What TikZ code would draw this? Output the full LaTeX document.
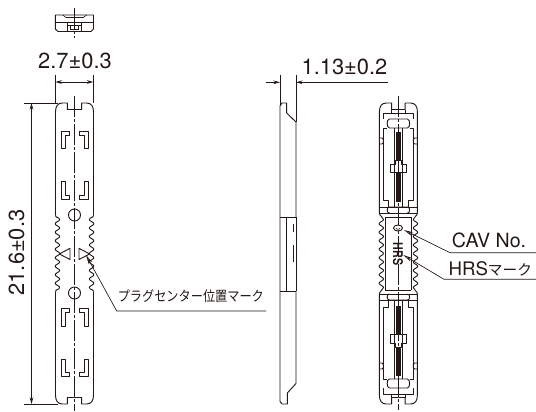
\documentclass[tikz,border=0pt]{standalone}
\usepackage{fontspec}
\setmainfont{TeX Gyre Heros}
\newfontfamily\jpfont{Noto Sans CJK JP}
\newfontfamily\jpnarrow[FakeStretch=0.87]{Noto Sans CJK JP}
\usetikzlibrary{arrows.meta, positioning, calc}
\definecolor{colour_ink}{HTML}{231815}

% Wavy flank and outer shoulder, shared by both front views (one quarter)
\newcommand{\flankquarter}{%
   \draw[part] (-19,-38) .. controls (-19,-35.5) and (-15,-36.5) .. (-14.9,-34)
      -- plot[domain=-34:0, samples=65] ({-17.1+2.2*cos(42.35*\x)}, \x);
   \draw[part] (-19,-38) -- (-19,-141.5) .. controls (-19,-147) and (-17,-150.5) .. (-12,-150.5)
      -- (-7.2,-150.5) -- (-7.2,-144) -- (0,-144);
}

\begin{document}
\begin{tikzpicture}
   [
      x=0.75pt, y=-0.75pt,
      colour_ink, text=colour_ink,
      part/.style={line width=0.7pt, line join=round},
      thin part/.style={line width=0.45pt},
      centre line/.style={line width=0.55pt, dash pattern=on 16pt off 1.5pt on 2pt off 1.5pt},
      dim line/.style={line width=0.5pt},
      dim tip/.style={{Stealth[open, length=5pt, width=2.8pt]}-{Stealth[open, length=5pt, width=2.8pt]}},
      lead tip/.style={{Stealth[open, length=7pt, width=3pt]}-},
      dim label/.style={font=\fontsize{16.4}{18}\selectfont, inner sep=0pt},
      call label/.style={font=\fontsize{14.7}{17}\selectfont, inner sep=0pt}
   ]
   \useasboundingbox (0,0) rectangle (536,411);

   % =======================================================
   % End view (top)
   % =======================================================

   \draw[part] (55.3,15) -- (93.5,15) -- (93.5,29) -- (91,31.5) -- (58,31.5) -- (55.3,29) -- cycle;
   \draw[part] (55.3,22.3) -- (93.5,22.3);
   \draw[thin part] (62.7,15) -- (66,17.5) -- (83.3,17.5) -- (86.7,15);
   \draw[part] (67.3,22.3) rectangle (81.2,31.5);
   \draw[thin part] (67.3,25.7) -- (81.2,25.7);
   \draw[thin part] (70.7,25.7) -- (70.7,29.5) -- (78,29.5) -- (78,25.7);
   \draw[centre line] (74.5,8) -- (74.5,38);

   % =======================================================
   % Front view (left)
   % =======================================================

   \foreach \sx/\sy in {1/1, -1/1, 1/-1, -1/-1}
   {
      \begin{scope}[shift={(74.5,253.5)}, xscale=\sx, yscale=\sy]
         \flankquarter
         % Contact windows
         \draw[part] (-13.5,-122.5) -- (-5,-122.5) -- (-5,-118.5) -- (-9.5,-118.5)
            -- (-9.5,-105.5) -- (-13.5,-105.5) -- cycle;
         \draw[part] (-13.5,-72.5) -- (-9.5,-72.5) -- (-9.5,-58.5) -- (-5,-58.5)
            -- (-5,-54.5) -- (-13.5,-54.5) -- cycle;
      \end{scope}
   }

   \draw[part] (74.5,215) circle (6);
   \draw[part] (74.5,293) circle (6);

   % Centre marks
   \draw[part] (59.4,254) -- (70,248.3) -- (70,259.5) -- cycle;
   \draw[part] (89.6,254) -- (79,248.3) -- (79,259.5) -- cycle;

   \draw[centre line] (74.5,96) -- (74.5,411);

   % Width dimension
   \coordinate (width_l_top) at (55.3,75);
   \coordinate (width_l_end) at (55.3,103);
   \coordinate (width_r_top) at (93.5,75);
   \coordinate (width_r_end) at (93.5,103);
   \draw[dim line] (width_l_top) -- (width_l_end);
   \draw[dim line] (width_r_top) -- (width_r_end);
   \draw[dim line, dim tip] ($(width_l_top)+(0,7)$) -- ($(width_r_top)+(0,7)$);
   \node[dim label] (width_label) at (75,61) {2.7±0.3};

   % Length dimension
   \coordinate (length_top_a) at (24,103);
   \coordinate (length_top_b) at (58,103);
   \coordinate (length_bot_a) at (24,404);
   \coordinate (length_bot_b) at (58,404);
   \draw[dim line] (length_top_a) -- (length_top_b);
   \draw[dim line] (length_bot_a) -- (length_bot_b);
   \draw[dim line, dim tip] ($(length_top_a)+(7.5,0)$) -- ($(length_bot_a)+(7.5,0)$);
   \node[dim label, rotate=90] (length_label) at (16.5,252.5) {21.6±0.3};

   % Plug centre leader
   \coordinate (plug_tip) at (86,255);
   \coordinate (plug_knee) at (116.7,311);
   \coordinate (plug_end) at (266,311);
   \draw[dim line, lead tip] (plug_tip) -- (plug_knee) -- (plug_end);
   \node[font=\jpnarrow\fontsize{10.5}{12}\selectfont, inner sep=0pt, anchor=west] (plug_label)
      at (117.5,296) {プラグセンター位置マーク};

   % =======================================================
   % Side view
   % =======================================================

   \draw[part] (280,291) -- (280,106) -- (282,103) -- (286.7,103) -- (286.7,113) -- (296,122) -- (296,217);
   \draw[part] (280,217) -- (296,217);
   \draw[part] (286,217) -- (286,291);
   \draw[part] (296,217) -- (296,291);
   \draw[part] (280,291) -- (296,291);
   \draw[part] (296,291) -- (296,383.5) -- (287.3,393) -- (287.3,404) -- (282,404) -- (280,401.5) -- (280,291);
   \draw[line width=1pt] (293.7,224) -- (293.7,232);
   \draw[line width=1pt] (293.7,245) -- (293.7,262);

   % Thickness dimension
   \coordinate (thick_l_top) at (280,75);
   \coordinate (thick_l_end) at (280,105);
   \coordinate (thick_r_top) at (296,75);
   \coordinate (thick_r_end) at (296,122);
   \draw[dim line] (thick_l_top) -- (thick_l_end);
   \draw[dim line] (thick_r_top) -- (thick_r_end);
   \draw[dim line, {Stealth[open, length=5pt, width=2.8pt]}-] ($(thick_l_top)+(0,7.3)$) -- ++(-14,0);
   \draw[dim line, {Stealth[open, length=5pt, width=2.8pt]}-] ($(thick_r_top)+(0,7.3)$) -- ++(92,0);
   \node[dim label] (thick_label) at (344.5,66.5) {1.13±0.2};

   % =======================================================
   % Mating face view (right)
   % =======================================================

   \foreach \sx/\sy in {1/1, -1/1, 1/-1, -1/-1}
   {
      \begin{scope}[shift={(398.4,253.5)}, xscale=\sx, yscale=\sy]
         \draw[part] (-19,-40.5) .. controls (-19,-37) and (-15,-37) .. (-14.9,-34)
            -- plot[domain=-34:0, samples=65] ({-17.1+2.2*cos(42.35*\x)}, \x);
         \draw[part] (-19,-40.5) -- (-19,-141.5) .. controls (-19,-147) and (-17,-150.5) .. (-12,-150.5)
            -- (-6.8,-150.5) -- (-6.8,-144) -- (0,-144);
         \draw[thin part] (-6.8,-144) -- (-6.8,-140.5);
         \draw[part] (-15,-134.5) -- (-15,-140.5) -- (0,-140.5);
         % Guide block
         \draw[part] (0,-134.5) -- (-9,-134.5) .. controls (-12,-134.5) and (-12,-125.5) .. (-9,-125.5) -- (0,-125.5);
         \draw[part] (-11.5,-125.5) -- (-15,-125.5) -- (-15,-53.5) -- (-10,-53.5) -- (-10,-46.5) -- (0,-46.5);
         \draw[thin part] (-19,-46.5) -- (-10,-46.5);
         \draw[part, rounded corners=1pt] (-19,-115.5) -- (-15,-115.5) -- (-15,-109.5) -- (-19,-109.5);
         % Contact column
         \draw[part] (-3.9,-125.5) -- (-3.9,-46.5);
         \fill (-2.3,-122) rectangle (0,-93.5);
         \fill (-2.3,-80.5) rectangle (0,-52);
         \draw[part] (0,-93.5) -- (-3,-93.5) -- (-3,-89.5) -- (-8.4,-89.5) -- (-8.4,-81) -- (0,-81);
         % Lower latch
         \draw[part] (0,-46.5) -- (-9,-46.5) .. controls (-12,-46.5) and (-12,-40.5) .. (-9,-40.5);
         \draw[part] (-19,-40.5) -- (0,-40.5);
         \draw[part] (-13,-36.5) -- (0,-36.5);
         \draw[thin part] (-13,-36.5) -- (-13,0);
      \end{scope}
   }

   \draw[centre line] (398.4,96) -- (398.4,410);

   % Cavity number mark and maker mark
   \draw[part, fill=white] (398,228) ellipse (4.5 and 3);
   \draw[thin part] (396,228) arc (180:0:2 and 1.3);
   \node[font=\fontsize{10}{10}\bfseries\selectfont, inner sep=0pt, rotate=-90] (maker_mark)
      at (398,254) {\scalebox{0.8}[1]{HRS}};

   % Cavity number leader
   \coordinate (cav_tip) at (404,230);
   \coordinate (cav_knee) at (450,252.7);
   \coordinate (cav_end) at (536,252.7);
   \draw[dim line, lead tip] (cav_tip) -- (cav_knee) -- (cav_end);
   \node[call label, anchor=west] (cav_label) at (451.7,240) {CAV No.};

   % Maker mark leader
   \coordinate (hrs_tip) at (403.3,255);
   \coordinate (hrs_knee) at (444,279.3);
   \coordinate (hrs_end) at (536,279.3);
   \draw[dim line, lead tip] (hrs_tip) -- (hrs_knee) -- (hrs_end);
   \node[call label, font=\fontsize{14}{17}\selectfont, anchor=west] (hrs_label) at (448.3,269) {HRS{\jpfont\fontsize{11}{15}\selectfont マーク}};

\end{tikzpicture}
\end{document}
